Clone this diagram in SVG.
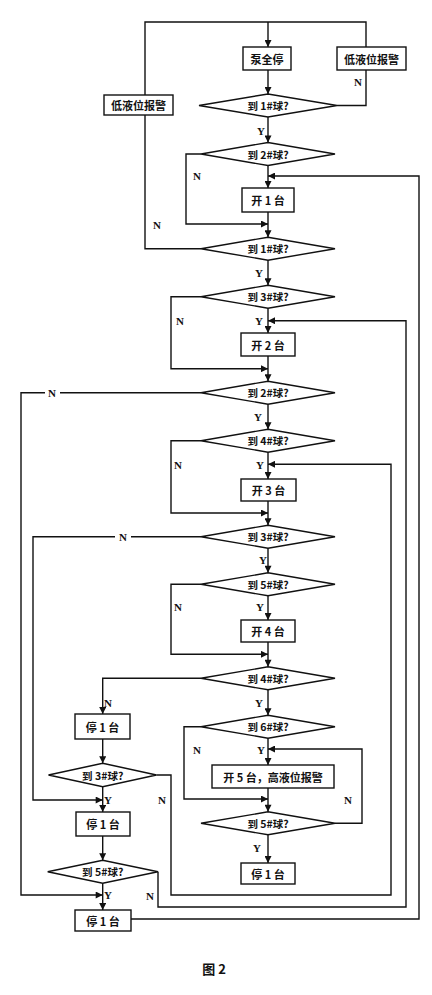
<svg xmlns="http://www.w3.org/2000/svg" width="432" height="995" viewBox="0 0 432 995">
<style>
.b{fill:#fff;stroke:#111;stroke-width:1.4}
.t{font-family:"Noto Sans CJK SC","Noto Sans CJK JP",sans-serif;font-size:11px;font-weight:bold;fill:#111;text-anchor:middle;dominant-baseline:central}
.d{font-size:10.5px}
.l{font-family:"Liberation Serif",serif;font-size:11px;font-weight:bold;fill:#111;text-anchor:middle;dominant-baseline:central}
.c{fill:none;stroke:#111;stroke-width:1.4}
.cap{font-size:13px}
</style>
<defs>
<marker id="a" viewBox="0 0 10 10" refX="10" refY="5" markerWidth="8" markerHeight="7" markerUnits="userSpaceOnUse" orient="auto"><path d="M0,0L10,5L0,10z" fill="#111"/></marker>
</defs>
<rect width="432" height="995" fill="#fff"/>
<g id="connectors" class="c">
<path d="M145,95V22H366V47"/>
<path d="M268,22V47" marker-end="url(#a)"/>
<path d="M366,70V105.5H337"/>
<path d="M268,70V94" marker-end="url(#a)"/>
<path d="M268,117V142.5" marker-end="url(#a)"/>
<path d="M201,154H186V224H268" marker-end="url(#a)"/>
<path d="M131,919H419V176H268" marker-end="url(#a)"/>
<path d="M268,165.5V188" marker-end="url(#a)"/>
<path d="M268,212V237.2" marker-end="url(#a)"/>
<path d="M201,248.7H145V115"/>
<path d="M268,260.2V285.2" marker-end="url(#a)"/>
<path d="M201,296.7H171V368.7H268" marker-end="url(#a)"/>
<path d="M158,871.7V907H406V320.7H268" marker-end="url(#a)"/>
<path d="M268,308.2V333" marker-end="url(#a)"/>
<path d="M268,356V381.2" marker-end="url(#a)"/>
<path d="M201,392.7H60"/>
<path d="M45,392.7H21V895H102.7" marker-end="url(#a)"/>
<path d="M268,404.2V429.2" marker-end="url(#a)"/>
<path d="M201,440.7H171V513H268" marker-end="url(#a)"/>
<path d="M156.5,775H171V895H391V464.3H268" marker-end="url(#a)"/>
<path d="M268,452.2V479" marker-end="url(#a)"/>
<path d="M268,501V525.2" marker-end="url(#a)"/>
<path d="M201,536.7H131"/>
<path d="M115,536.7H33V800H102.7" marker-end="url(#a)"/>
<path d="M268,548.2V572.8" marker-end="url(#a)"/>
<path d="M201,584.3H171V654.3H268" marker-end="url(#a)"/>
<path d="M268,595.8V620" marker-end="url(#a)"/>
<path d="M268,642V666.8" marker-end="url(#a)"/>
<path d="M201,678.3H102.7V714" marker-end="url(#a)"/>
<path d="M268,689.8V715.2" marker-end="url(#a)"/>
<path d="M201,726.7H184V799H268" marker-end="url(#a)"/>
<path d="M335,823.3H362V749H268" marker-end="url(#a)"/>
<path d="M268,738.2V765" marker-end="url(#a)"/>
<path d="M268,788V811.8" marker-end="url(#a)"/>
<path d="M268,834.8V863" marker-end="url(#a)"/>
<path d="M102.7,739V763.3" marker-end="url(#a)"/>
<path d="M102.7,786.7V812" marker-end="url(#a)"/>
<path d="M102.7,836V860.2" marker-end="url(#a)"/>
<path d="M102.7,883.2V910" marker-end="url(#a)"/>
</g>
<g id="labels">
<text class="l" x="358" y="82">N</text>
<text class="l" x="261" y="131">Y</text>
<text class="l" x="197" y="176">N</text>
<text class="l" x="157" y="225">N</text>
<text class="l" x="259" y="273">Y</text>
<text class="l" x="180" y="321">N</text>
<text class="l" x="259" y="321">Y</text>
<text class="l" x="52" y="393">N</text>
<text class="l" x="258" y="417">Y</text>
<text class="l" x="178" y="465">N</text>
<text class="l" x="260" y="465">Y</text>
<text class="l" x="123" y="537">N</text>
<text class="l" x="263" y="560">Y</text>
<text class="l" x="178" y="607">N</text>
<text class="l" x="260" y="607">Y</text>
<text class="l" x="108" y="703">N</text>
<text class="l" x="259" y="703">Y</text>
<text class="l" x="197" y="750">N</text>
<text class="l" x="261" y="750">Y</text>
<text class="l" x="348" y="800">N</text>
<text class="l" x="162" y="800">N</text>
<text class="l" x="108" y="800">Y</text>
<text class="l" x="257" y="848">Y</text>
<text class="l" x="150" y="896">N</text>
<text class="l" x="108" y="895">Y</text>
</g>
<g id="alarm-left"><rect class="b" x="104" y="95" width="69" height="20"/><text class="t" x="138.5" y="105">低液位报警</text></g>
<g id="stop-all"><rect class="b" x="243" y="47" width="48" height="23"/><text class="t" x="267" y="58.5">泵全停</text></g>
<g id="alarm-right"><rect class="b" x="337" y="47" width="69" height="23"/><text class="t" x="371.5" y="58.5">低液位报警</text></g>
<g id="d1"><polygon class="b" points="199,105.5 268,94 337,105.5 268,117"/><text class="t d" x="268" y="105.5">到 1#球?</text></g>
<g id="d2"><polygon class="b" points="201,154 268,142.5 335,154 268,165.5"/><text class="t d" x="268" y="154">到 2#球?</text></g>
<g id="on1"><rect class="b" x="242" y="188" width="52" height="24"/><text class="t" x="268" y="200">开 1 台</text></g>
<g id="d3"><polygon class="b" points="201,248.7 268,237.2 335,248.7 268,260.2"/><text class="t d" x="268" y="248.7">到 1#球?</text></g>
<g id="d4"><polygon class="b" points="201,296.7 268,285.2 335,296.7 268,308.2"/><text class="t d" x="268" y="296.7">到 3#球?</text></g>
<g id="on2"><rect class="b" x="241" y="333" width="54" height="23"/><text class="t" x="268" y="344.5">开 2 台</text></g>
<g id="d5"><polygon class="b" points="201,392.7 268,381.2 335,392.7 268,404.2"/><text class="t d" x="268" y="392.7">到 2#球?</text></g>
<g id="d6"><polygon class="b" points="201,440.7 268,429.2 335,440.7 268,452.2"/><text class="t d" x="268" y="440.7">到 4#球?</text></g>
<g id="on3"><rect class="b" x="241" y="479" width="55" height="22"/><text class="t" x="268.5" y="490">开 3 台</text></g>
<g id="d7"><polygon class="b" points="201,536.7 268,525.2 335,536.7 268,548.2"/><text class="t d" x="268" y="536.7">到 3#球?</text></g>
<g id="d8"><polygon class="b" points="201,584.3 268,572.8 335,584.3 268,595.8"/><text class="t d" x="268" y="584.3">到 5#球?</text></g>
<g id="on4"><rect class="b" x="241" y="620" width="54" height="22"/><text class="t" x="268" y="631">开 4 台</text></g>
<g id="d9"><polygon class="b" points="201,678.3 268,666.8 335,678.3 268,689.8"/><text class="t d" x="268" y="678.3">到 4#球?</text></g>
<g id="d11"><polygon class="b" points="201,726.7 268,715.2 335,726.7 268,738.2"/><text class="t d" x="268" y="726.7">到 6#球?</text></g>
<g id="on5"><rect class="b" x="212" y="765" width="122" height="23"/><text class="t" x="273" y="776.5">开 5 台，高液位报警</text></g>
<g id="d13"><polygon class="b" points="201,823.3 268,811.8 335,823.3 268,834.8"/><text class="t d" x="268" y="823.3">到 5#球?</text></g>
<g id="off-r"><rect class="b" x="241" y="863" width="54" height="21"/><text class="t" x="268" y="873.5">停 1 台</text></g>
<g id="off1"><rect class="b" x="75" y="714" width="55" height="25"/><text class="t" x="102.5" y="726.5">停 1 台</text></g>
<g id="d10"><polygon class="b" points="48.5,775 102.7,763.3 156.5,775 102.7,786.7"/><text class="t d" x="102.7" y="775">到 3#球?</text></g>
<g id="off2"><rect class="b" x="76" y="812" width="54" height="24"/><text class="t" x="103" y="824">停 1 台</text></g>
<g id="d12"><polygon class="b" points="47.7,871.7 102.7,860.2 158,871.7 102.7,883.2"/><text class="t d" x="102.7" y="871.7">到 5#球?</text></g>
<g id="off3"><rect class="b" x="75" y="910" width="56" height="21"/><text class="t" x="103" y="920.5">停 1 台</text></g>
<g id="caption"><text class="t cap" x="214" y="968">图 2</text></g>
</svg>
